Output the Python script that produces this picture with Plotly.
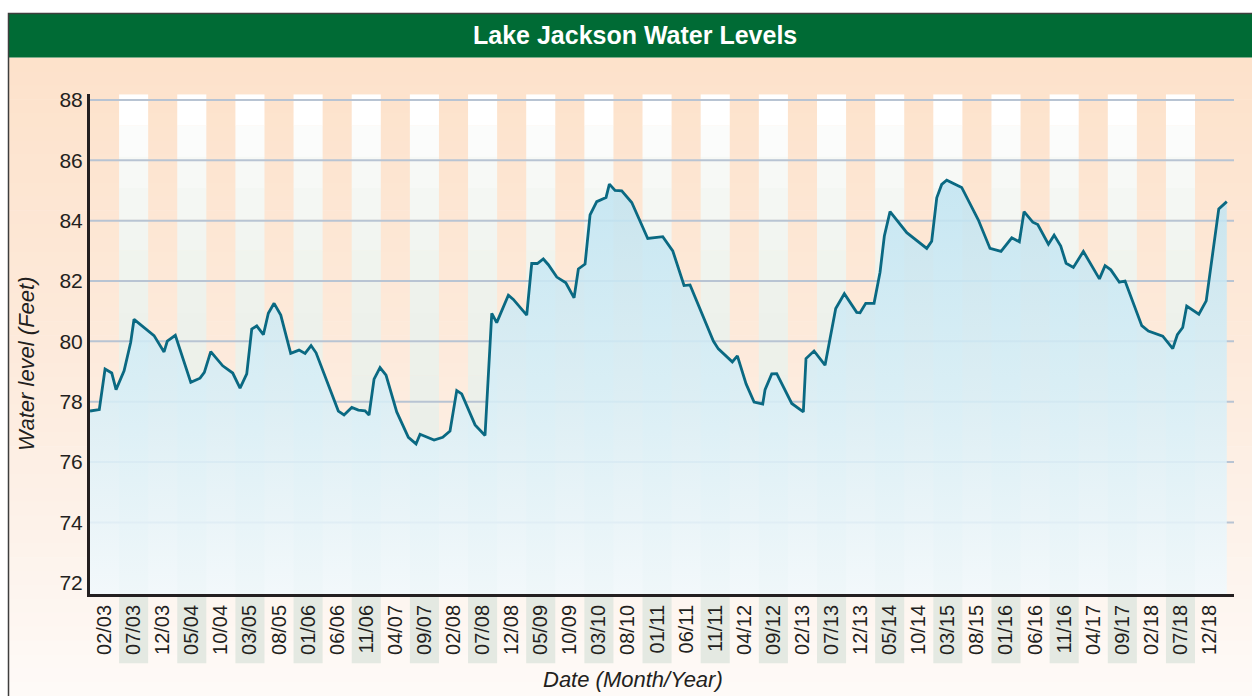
import plotly.graph_objects as go

W, H = 1252, 696

# months counted from Feb 2003 (tick labels every 5 months)
months = [
    -2.5, -0.9, 0.09, 1.24, 1.98, 3.36, 4.50, 5.07, 8.51, 10.23,
    10.79, 12.17, 14.83, 16.42, 17.16, 18.26, 20.32, 22.04, 23.30, 24.45,
    25.31, 26.17, 27.31, 28.16, 29.15, 30.30, 32.01, 33.44, 34.48, 35.51,
    36.37, 40.20, 41.18, 42.51, 43.64, 44.79, 45.48, 46.34, 47.37, 48.40,
    50.24, 52.24, 53.56, 54.25, 56.66, 58.15, 59.40, 60.56, 61.41, 63.71,
    65.42, 66.58, 67.43, 69.43, 70.29, 72.59, 73.45, 74.42, 75.44, 76.31,
    77.76, 79.31, 80.73, 81.47, 82.62, 83.48, 84.63, 86.23, 86.80, 87.78,
    88.93, 90.65, 93.40, 95.98, 97.70, 98.95, 99.64, 100.67, 104.68, 105.54,
    107.94, 108.81, 110.31, 111.68, 113.17, 113.57, 114.72, 115.58, 118.16, 120.15,
    120.61, 121.99, 123.88, 125.72, 127.20, 129.33, 129.90, 130.88, 132.31, 133.34,
    134.08, 135.06, 137.94, 141.37, 142.22, 143.09, 143.94, 144.81, 147.38, 150.23,
    152.25, 154.14, 155.99, 157.29, 158.10, 159.60, 160.46, 162.29, 163.27, 164.41,
    165.33, 166.58, 168.30, 171.06, 172.03, 173.02, 174.49, 175.47, 178.34, 179.48,
    181.95, 183.67, 184.46, 185.38, 186.07, 188.16, 189.42, 191.58, 192.96,
]

# water level (feet)
levels = [
    77.69, 77.74, 79.08, 78.95, 78.40, 79.02, 79.97, 80.73, 80.19, 79.65,
    80.01, 80.20, 78.64, 78.78, 78.97, 79.66, 79.19, 78.95, 78.45, 78.92,
    80.41, 80.51, 80.22, 80.93, 81.26, 80.87, 79.60, 79.71, 79.60, 79.86,
    79.62, 77.69, 77.56, 77.81, 77.72, 77.70, 77.56, 78.75, 79.13, 78.88,
    77.66, 76.82, 76.60, 76.92, 76.73, 76.82, 77.03, 78.37, 78.26, 77.23,
    76.88, 80.93, 80.62, 81.53, 81.39, 80.87, 82.58, 82.58, 82.73, 82.54,
    82.13, 81.94, 81.44, 82.40, 82.56, 84.19, 84.63, 84.77, 85.21, 85.00,
    84.99, 84.60, 83.41, 83.47, 83.00, 82.25, 81.85, 81.87, 80.01, 79.75,
    79.32, 79.52, 78.59, 77.99, 77.92, 78.40, 78.92, 78.93, 77.94, 77.66,
    79.43, 79.68, 79.21, 81.09, 81.58, 80.96, 80.95, 81.26, 81.26, 82.29,
    83.49, 84.30, 83.60, 83.08, 83.32, 84.76, 85.20, 85.34, 85.10, 84.03,
    83.08, 82.98, 83.43, 83.30, 84.30, 83.95, 83.87, 83.22, 83.52, 83.16,
    82.59, 82.45, 82.98, 82.07, 82.51, 82.37, 81.96, 82.00, 80.52, 80.34,
    80.17, 79.76, 80.22, 80.46, 81.17, 80.90, 81.34, 84.39, 84.63,
]

tick_labels = [
    "02/03", "07/03", "12/03", "05/04", "10/04", "03/05", "08/05", "01/06",
    "06/06", "11/06", "04/07", "09/07", "02/08", "07/08", "12/08", "05/09",
    "10/09", "03/10", "08/10", "01/11", "06/11", "11/11", "04/12", "09/12",
    "02/13", "07/13", "12/13", "05/14", "10/14", "03/15", "08/15", "01/16",
    "06/16", "11/16", "04/17", "09/17", "02/18", "07/18", "12/18",
]
tick_months = [5 * i for i in range(len(tick_labels))]
y_ticks = [72, 74, 76, 78, 80, 82, 84, 86, 88]

X_MIN, X_MAX = -2.5, 194.2
Y_MIN, Y_MAX = 71.63, 88.19

FONT = "Liberation Sans, Arial, Helvetica, sans-serif"
INK = "#231f20"


def blend(stops, f):
    # linear colour ramp between hex stops
    for (f0, c0), (f1, c1) in zip(stops, stops[1:]):
        if f <= f1:
            t = (f - f0) / (f1 - f0)
            a = [int(c0[i:i + 2], 16) for i in (1, 3, 5)]
            b = [int(c1[i:i + 2], 16) for i in (1, 3, 5)]
            return "rgb(%d,%d,%d)" % tuple(round(p + (q - p) * t) for p, q in zip(a, b))
    return stops[-1][1]


shapes = []

# peach page background, fading downwards
bg_stops = [(0, "#fde2cb"), (0.45, "#fdeadb"), (0.75, "#fdf2ea"), (1, "#fefaf7")]
n_bg = 46
step = (H - 52) / n_bg
for i in range(n_bg):
    top = 52 + i * step
    shapes.append(dict(type="rect", xref="paper", yref="paper", layer="below",
                       x0=9 / W, x1=1, y0=1 - (top + step + 0.6) / H, y1=1 - top / H,
                       fillcolor=blend(bg_stops, i / (n_bg - 1)), line_width=0))

# light bands behind every other label
for k in range(1, len(tick_labels), 2):
    shapes.append(dict(type="rect", xref="x", yref="paper", layer="below",
                       x0=5 * k - 2.5, x1=5 * k + 2.5, y0=1 - 663 / H, y1=1 - 596 / H,
                       fillcolor="#e4e9e2", line_width=0))

# white -> grey-green bands in the plot area
band_stops = [(0, "#ffffff"), (0.15, "#f6f8f5"), (0.4, "#eef2ec"), (1, "#e8ece5")]
n_band = 16
span = (Y_MAX - Y_MIN) / n_band
for k in range(1, len(tick_labels), 2):
    for j in range(n_band):
        shapes.append(dict(type="rect", xref="x", yref="y", layer="below",
                           x0=5 * k - 2.5, x1=5 * k + 2.5,
                           y0=Y_MAX - (j + 1) * span - 0.01, y1=Y_MAX - j * span,
                           fillcolor=blend(band_stops, j / (n_band - 1)), line_width=0))

# horizontal grid lines
for v in y_ticks[1:]:
    shapes.append(dict(type="line", xref="x", yref="y", layer="below",
                       x0=X_MIN, x1=X_MAX, y0=v, y1=v,
                       line=dict(color="#b8c4d3", width=2)))

# title bar and frame
shapes.append(dict(type="rect", xref="paper", yref="paper", layer="above",
                   x0=9 / W, x1=1.01, y0=1 - 52 / H, y1=1 - 8 / H,
                   fillcolor="#006b35", line_width=0))
shapes.append(dict(type="rect", xref="paper", yref="paper", layer="above",
                   x0=8.5 / W, x1=1.01, y0=-0.01, y1=1 - 7.5 / H,
                   line=dict(color="#3e3e3e", width=1.5)))

fig = go.Figure()
fig.add_trace(go.Scatter(
    x=months, y=levels, mode="lines",
    line=dict(color="#0a6982", width=2.8),
    fill="tozeroy",
    fillgradient=dict(type="vertical", start=Y_MIN, stop=85.4,
                      colorscale=[[0, "rgba(241,249,253,0.85)"],
                                  [0.5, "rgba(214,238,247,0.86)"],
                                  [1, "rgba(192,228,242,0.86)"]]),
    hoverinfo="skip",
))

annotations = [
    dict(text="<b>Lake Jackson Water Levels</b>", x=635 / W, y=1 - 29 / H,
         xanchor="center", yanchor="middle",
         font=dict(family=FONT, size=25, color="white")),
    dict(text="<i>Water level (Feet)</i>", x=27 / W, y=1 - 361 / H, textangle=-90,
         xanchor="center", yanchor="middle",
         font=dict(family=FONT, size=22, color=INK)),
    dict(text="<i>Date (Month/Year)</i>", x=633 / W, y=1 - 679 / H,
         xanchor="center", yanchor="middle",
         font=dict(family=FONT, size=22, color=INK)),
]
for a in annotations:
    a.update(xref="paper", yref="paper", showarrow=False)

fig.update_layout(
    width=W, height=H, margin=dict(l=0, r=0, t=0, b=0),
    paper_bgcolor="white", plot_bgcolor="rgba(0,0,0,0)",
    showlegend=False, shapes=shapes, annotations=annotations,
    font=dict(family=FONT, color=INK),
)
fig.update_xaxes(
    domain=[90 / W, 1234 / W], range=[X_MIN, X_MAX],
    tickmode="array", tickvals=tick_months, ticktext=tick_labels,
    tickangle=-90, tickfont=dict(size=20, color=INK), ticks="",
    showgrid=False, zeroline=False, showline=True, linewidth=3, linecolor=INK,
)
fig.update_yaxes(
    domain=[1 - 593 / H, 1 - 89 / H], range=[Y_MIN, Y_MAX],
    tickmode="array", tickvals=y_ticks, tickfont=dict(size=21, color=INK), ticks="",
    showgrid=False, zeroline=False, showline=True, linewidth=3, linecolor=INK,
)

# pin the figure to the window's top-left corner, no page margin or scrolling
pin = (
    "document.documentElement.style.overflow='hidden';"
    "document.body.style.margin='0';"
    "document.body.style.overflow='hidden';"
    "var g=document.getElementsByClassName('plotly-graph-div')[0];"
    "g.style.position='fixed';g.style.left='0px';g.style.top='0px';"
)
fig.write_html("out.html", config={"displayModeBar": False}, post_script=pin)
